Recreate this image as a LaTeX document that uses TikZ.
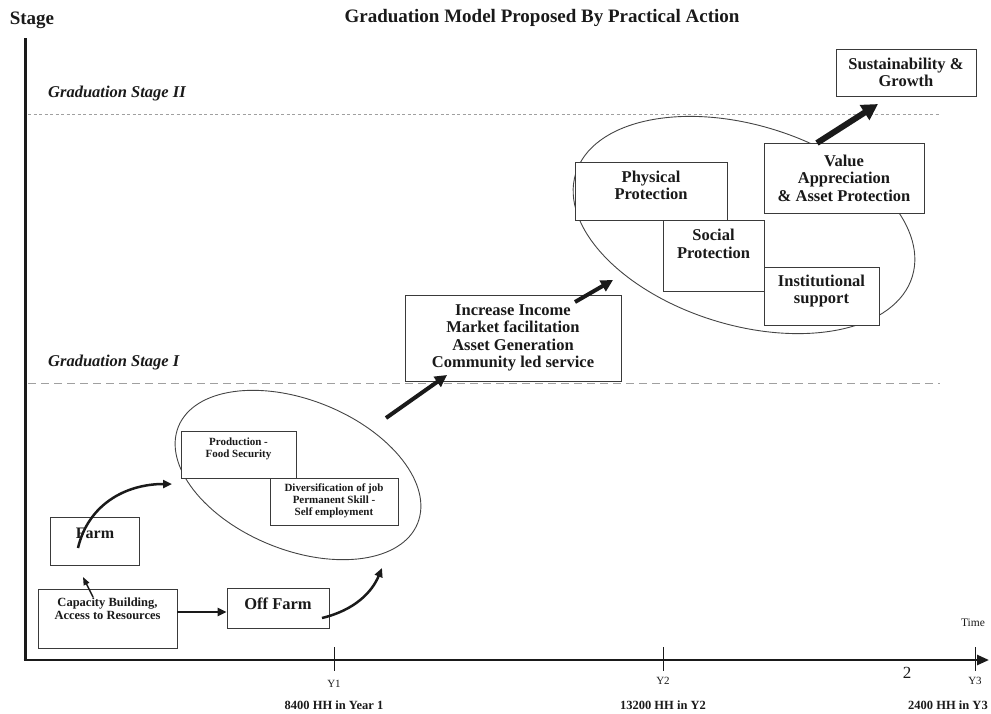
\documentclass[tikz,border=0pt]{standalone}
\usepackage{fontspec}
\setmainfont{Liberation Serif}
\usetikzlibrary{arrows.meta,shapes.geometric}
\newcommand{\myfs}[2]{\fontsize{#1}{#2}\selectfont}
\definecolor{boxc}{HTML}{3A3A3A}
\definecolor{ellc}{HTML}{444444}
\definecolor{txtc}{HTML}{1A1A1A}
\definecolor{dashc}{HTML}{A0A0A0}
\begin{document}
\begin{tikzpicture}[x=1pt,y=-1pt,
  box/.style={draw=boxc, line width=0.9pt, fill=white, inner sep=0pt},
  lbl/.style={font={\bfseries\myfs{16.5}{17.5}}, align=center, inner sep=0pt, text=txtc},
  mid/.style={font={\bfseries\myfs{12.5}{13.5}}, align=center, inner sep=0pt, text=txtc},
  sml/.style={font={\bfseries\myfs{11}{12}}, align=center, inner sep=0pt, text=txtc},
  axl/.style={font={\myfs{11}{12}}, inner sep=0pt, text=txtc},
  ell/.style={draw=ellc, line width=0.9pt, ellipse, inner sep=0pt},
  fat/.style={line width=4pt, -{Triangle[length=12pt,width=12pt]}},
  med/.style={line width=2.5pt, -{Triangle[length=9pt,width=8pt]}},
  stagel/.style={font={\bfseries\itshape\myfs{16.5}{17.5}}, anchor=west, inner sep=0pt, text=txtc},
  stageline/.style={draw=dashc, line width=0.9pt}
]
\useasboundingbox (0,0) rectangle (991,713);

% header
\node[font={\bfseries\myfs{19}{20}}, inner sep=0pt, text=txtc] (stage) at (32,20) {Stage};
\node[font={\bfseries\myfs{19}{20}}, inner sep=0pt, text=txtc] (title) at (542,18) {Graduation Model Proposed By Practical Action};

% stage lines
\coordinate (s2a) at (28,114); \coordinate (s2b) at (940,114);
\coordinate (s1a) at (28,383); \coordinate (s1b) at (940,383);
\draw[stageline, dash pattern=on 3pt off 2.5pt] (s2a) -- (s2b);
\draw[stageline, dash pattern=on 8pt off 5pt] (s1a) -- (s1b);
\node[stagel] (gs2) at (48,94) {Graduation Stage II};
\node[stagel] (gs1) at (48,363) {Graduation Stage I};

% axes
\coordinate (orig) at (25,660);
\coordinate (ytop) at (25,38);
\coordinate (xend) at (989,660);
\draw[line width=3pt, txtc] (ytop) -- (orig);
\draw[line width=2.5pt, txtc, -{Triangle[length=12pt,width=10pt]}] ([xshift=-1.5pt]orig) -- (xend);
\foreach \n/\x in {t1/334, t2/663, t3/975} {
  \coordinate (\n a) at (\x,647); \coordinate (\n b) at (\x,671);
  \draw[line width=1pt, txtc] (\n a) -- (\n b);
}
\node[axl] (y1) at (334,684) {Y1};
\node[axl] (y2) at (663,681) {Y2};
\node[axl] (y3) at (975,681) {Y3};
\node[font={\myfs{17}{18}}, inner sep=0pt, text=txtc] (two) at (907,673) {2};
\node[font={\myfs{11.5}{12}}, inner sep=0pt, text=txtc] (time) at (973,623) {Time};
\node[mid] (hh1) at (334,705) {8400 HH in Year 1};
\node[mid] (hh2) at (663,705) {13200 HH in Y2};
\node[mid] (hh3) at (948,705) {2400 HH in Y3};

% ellipses
\node[ell, minimum width=258pt, minimum height=150pt, rotate=-22] (ell1) at (298,475) {};
\node[ell, minimum width=352pt, minimum height=200pt, rotate=-17] (ell2) at (744,225) {};

% lower boxes
\node[box, minimum width=115pt, minimum height=47pt] (prod) at (238.5,454.5) {};
\node[sml] (prodt) at (238.5,448.5) {Production -\\Food Security};
\node[box, minimum width=128pt, minimum height=47pt] (div) at (334,501.5) {};
\node[sml] (divt) at (334,501) {Diversification of job\\Permanent Skill -\\Self employment};

\node[box, minimum width=89pt, minimum height=48pt] (farm) at (94.5,541) {};
\node[font={\bfseries\myfs{16}{17}}, inner sep=0pt, text=txtc] (farmt) at (95,533) {Farm};
\node[box, minimum width=139pt, minimum height=59pt] (cap) at (107.5,618.5) {};
\node[mid] (capt) at (107.5,608.5) {Capacity Building,\\Access to Resources};
\node[box, minimum width=102pt, minimum height=40pt] (off) at (278,608) {};
\node[font={\bfseries\myfs{16.5}{17}}, inner sep=0pt, text=txtc] (offt) at (278,604) {Off Farm};

% middle box
\node[box, lbl, minimum width=216pt, minimum height=86pt] (inc) at (513,338)
  {Increase Income\\Market facilitation\\Asset Generation\\Community led service};

% upper boxes
\node[box, minimum width=152pt, minimum height=58pt] (phys) at (651,191) {};
\node[lbl] (physt) at (651,185.5) {Physical\\Protection};
\node[box, minimum width=101pt, minimum height=71pt] (soc) at (713.5,255.5) {};
\node[lbl] (soct) at (713.5,244) {Social\\Protection};
\node[box, minimum width=115pt, minimum height=58pt] (inst) at (821.5,296) {};
\node[lbl] (instt) at (821.5,291) {Institutional\\support};
\node[box, lbl, minimum width=160pt, minimum height=70pt] (val) at (844,178)
  {Value\\Appreciation\\\& Asset Protection};
\node[box, lbl, minimum width=140pt, minimum height=47pt] (sust) at (906,72.5)
  {Sustainability \&\\Growth};

% connectors
\coordinate (c1) at (93,597); \coordinate (c2) at (83,577);
\draw[line width=1.5pt, txtc, -{Triangle[length=8pt,width=6pt]}] (c1) -- (c2);
\coordinate (f1) at (78,548); \coordinate (f2) at (172,484);
\draw[med, txtc] (f1) .. controls (88,505) and (125,484) .. (f2);
\draw[med, txtc] ([yshift=6.5pt]cap.east) -- ([yshift=-4pt]off.west);
\coordinate (o1) at (322,618); \coordinate (o2) at (382,568);
\draw[med, txtc] (o1) .. controls (355,610) and (372,592) .. (o2);
\coordinate (l1) at (386,418); \coordinate (l2) at (447,375);
\draw[fat, txtc] (l1) -- (l2);
\coordinate (u1) at (575,302); \coordinate (u2) at (613,280);
\draw[fat, txtc] (u1) -- (u2);
\coordinate (v1) at (817,143); \coordinate (v2) at (878,104);
\draw[line width=6pt, txtc, -{Triangle[length=16pt,width=17pt]}] (v1) -- (v2);
\end{tikzpicture}
\end{document}
